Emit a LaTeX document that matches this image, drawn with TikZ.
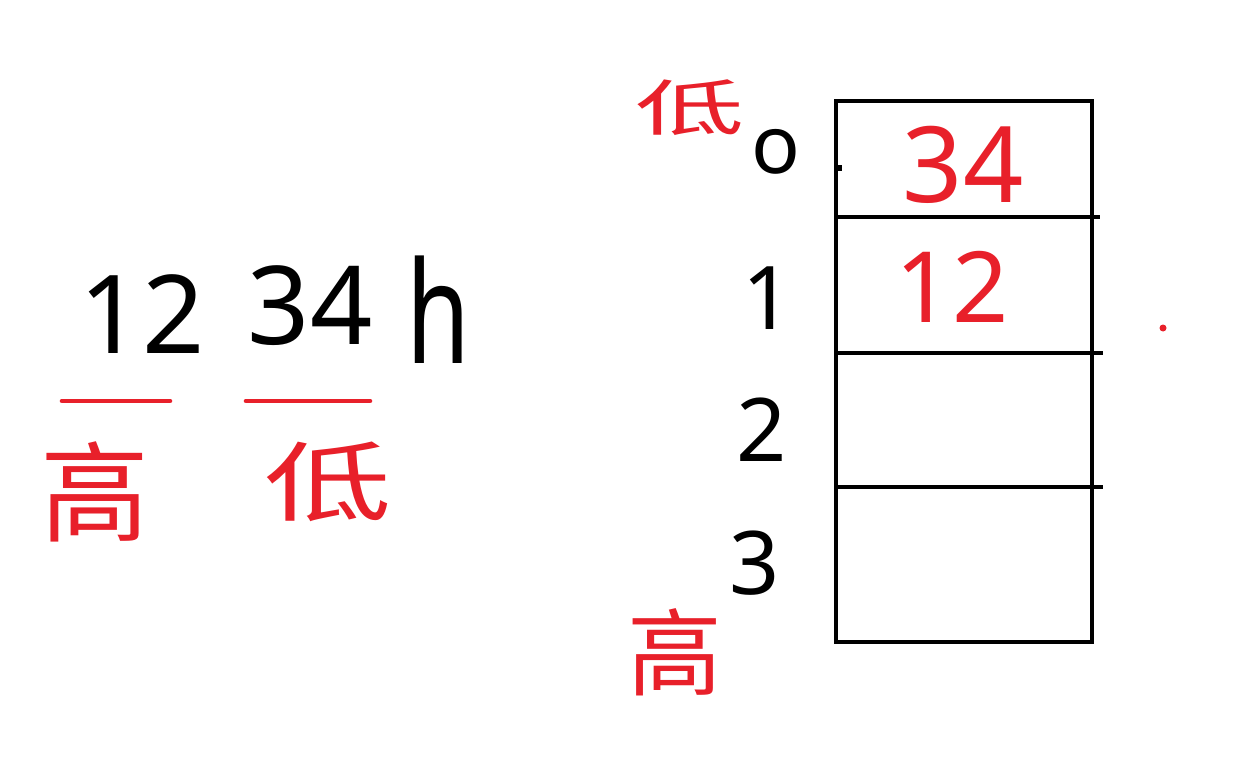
\documentclass[tikz,border=0pt]{standalone}
\usepackage{fontspec}
\setmainfont{Noto Sans}
\newfontfamily\cjk{Noto Sans CJK SC}
\definecolor{hred}{HTML}{E8202A}
\begin{document}
\begin{tikzpicture}[x=0.02cm,y=-0.02cm,
  big/.style={inner sep=0pt, font=\fontsize{62}{62}\selectfont},
  idx/.style={inner sep=0pt, font=\fontsize{50}{50}\selectfont},
  rtxt/.style={inner sep=0pt, text=hred},
  hz/.style={hred, line width=2.6pt, line cap=round},
  cell/.style={line width=2.6pt}]
\useasboundingbox[fill=white] (0,0) rectangle (1249,757);
% left: 1234h
\node[big] (n12) at (142,314) {12};
\node[big] (n34) at (310,306) {34};
\node[big, yscale=1.3, xscale=0.95] (nh) at (438,310) {h};
\coordinate (u1a) at (62,401); \coordinate (u1b) at (170,401);
\coordinate (u2a) at (246,401); \coordinate (u2b) at (370,401);
\draw[hz] (u1a) -- (u1b);
\draw[hz] (u2a) -- (u2b);
\node[rtxt, font=\cjk\fontsize{62}{62}\selectfont] (gao1) at (95,492) {高};
\node[rtxt, font=\cjk\fontsize{58}{58}\selectfont, xscale=1.25, yscale=0.85] (di1) at (328,482) {低};
% right: memory
\coordinate (b0) at (836,101);
\coordinate (b1) at (1092,642);
\draw[cell] (b0) rectangle (b1);
\coordinate (l1a) at (836,217); \coordinate (l1b) at (1100,217);
\coordinate (l2a) at (836,353); \coordinate (l2b) at (1103,353);
\coordinate (l3a) at (836,487); \coordinate (l3b) at (1103,487);
\draw[cell] (l1a) -- (l1b);
\draw[cell] (l2a) -- (l2b);
\draw[cell] (l3a) -- (l3b);
\node[inner sep=0pt, font=\fontsize{46}{46}\selectfont] (i0) at (776,152) {o};
\node[idx] (i1) at (768,298) {1};
\node[idx] (i2) at (762,430) {2};
\node[idx] (i3) at (755,563) {3};
\node[rtxt, font=\cjk\fontsize{46}{46}\selectfont, xscale=1.35, yscale=0.75] (di2) at (690,108) {低};
\node[rtxt, font=\cjk\fontsize{54}{54}\selectfont] (gao2) at (675,652) {高};
\node[rtxt, font=\fontsize{60}{60}\selectfont] (v34) at (963,165) {34};
\node[rtxt, font=\fontsize{56}{56}\selectfont] (v12) at (952,287) {12};
\fill[hred] (1163,328) circle (3.5);
\fill[black] (838,165) rectangle (842,171);
\end{tikzpicture}
\end{document}
